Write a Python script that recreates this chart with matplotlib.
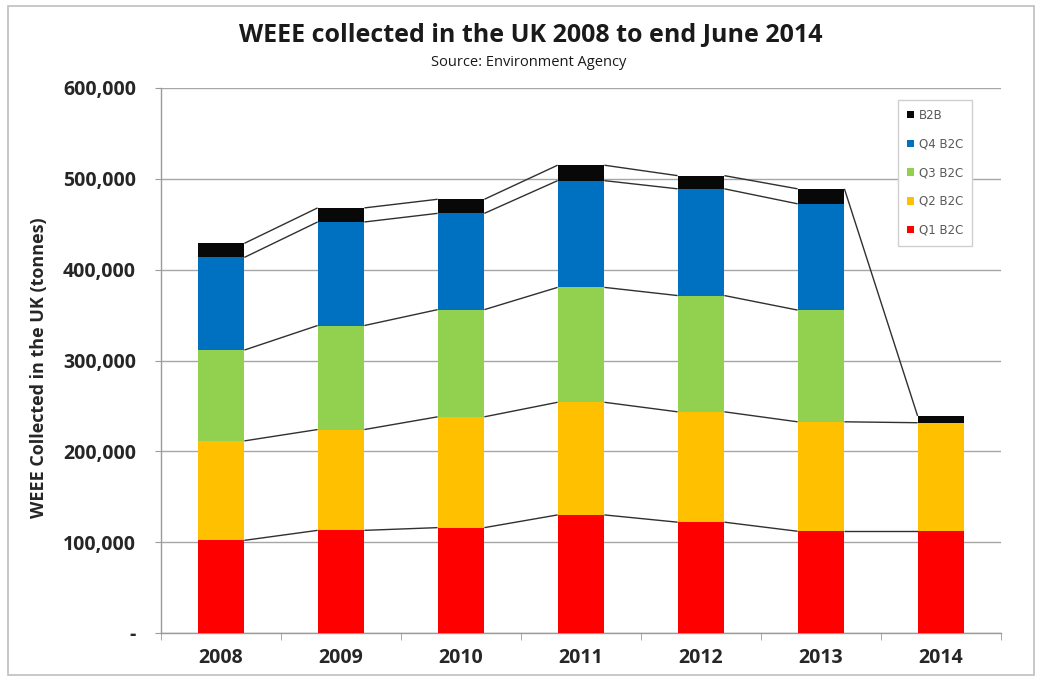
import numpy as np
import matplotlib
matplotlib.use("Agg")
import matplotlib.pyplot as plt
from matplotlib.patches import Patch, Rectangle
from matplotlib.ticker import FuncFormatter

years = ["2008", "2009", "2010", "2011", "2012", "2013", "2014"]
q1_b2c = [102000, 113000, 116000, 130000, 122000, 112000, 112000]
q2_b2c = [109500, 111000, 122000, 124000, 121500, 120500, 119500]
q3_b2c = [100000, 114500, 118000, 126500, 128000, 123000, np.nan]
q4_b2c = [102000, 114000, 106000, 117500, 117500, 117000, np.nan]
b2b = [15500, 15500, 15500, 17000, 14500, 16500, 7500]

series_names = ["Q1 B2C", "Q2 B2C", "Q3 B2C", "Q4 B2C", "B2B"]
series_vals = [q1_b2c, q2_b2c, q3_b2c, q4_b2c, b2b]
colors = ["#FF0000", "#FFC000", "#92D050", "#0070C0", "#080808"]

W, H = 1040, 681
fig = plt.figure(figsize=(W / 100, H / 100), dpi=100)
ax = fig.add_axes([161 / W, 48 / H, 840 / W, 545 / H])

x = np.arange(len(years))
bw = 0.39
bottom = np.zeros(len(years))
tops = []
for name, vals, c in zip(series_names, series_vals, colors):
    v = np.array(vals, dtype=float)
    mask = ~np.isnan(v)
    ax.bar(x[mask], v[mask], bw, bottom=bottom[mask], color=c, edgecolor="none",
           label=name, zorder=3)
    top = bottom + np.nan_to_num(v)
    t = np.where(mask, top, np.nan)
    tops.append(t)
    bottom = top

# series lines
for t in tops:
    for i in range(len(years) - 1):
        if not (np.isnan(t[i]) or np.isnan(t[i + 1])):
            ax.plot([x[i] + bw / 2, x[i + 1] - bw / 2], [t[i], t[i + 1]],
                    color="#303030", lw=1.0, zorder=2.5, solid_capstyle="butt")

ax.set_xlim(-0.5, len(years) - 0.5)
ax.set_ylim(0, 600000)
ax.set_yticks(np.arange(0, 600001, 100000))
ax.yaxis.set_major_formatter(FuncFormatter(lambda v, p: "-" if v == 0 else f"{int(v):,}"))
ax.set_xticks(x)
ax.set_xticklabels(years)
ax.set_xticks(np.arange(-0.5, len(years), 1.0), minor=True)

ax.grid(axis="y", color="#A6A6A6", lw=1.0, zorder=0)
ax.set_axisbelow(True)
for s in ["top", "right"]:
    ax.spines[s].set_visible(False)
for s in ["left", "bottom"]:
    ax.spines[s].set_color("#9A9A9A")
    ax.spines[s].set_linewidth(1.0)

ax.tick_params(axis="y", length=4, color="#9A9A9A", pad=14, labelcolor="#262626")
ax.tick_params(axis="x", which="major", length=0, pad=11, labelcolor="#262626")
ax.tick_params(axis="x", which="minor", length=5, color="#9A9A9A")
for lab in ax.get_yticklabels() + ax.get_xticklabels():
    lab.set_fontfamily(["Open Sans", "DejaVu Sans"])
    lab.set_fontweight("bold")
    lab.set_fontsize(14)

fig.text(39 / W, 1 - 368 / H, "WEEE Collected in the UK (tonnes)", rotation=90,
         ha="center", va="center", color="#262626",
         family=["Open Sans", "DejaVu Sans"], weight="bold", size=13)

fig.text(531 / W, 1 - 35 / H, "WEEE collected in the UK 2008 to end June 2014",
         ha="center", va="center", color="#1A1A1A",
         family=["Open Sans", "DejaVu Sans"], weight="bold", size=18)
fig.text(529 / W, 1 - 62 / H, "Source: Environment Agency",
         ha="center", va="center", color="#1A1A1A",
         family=["Open Sans", "DejaVu Sans"], size=10.5)

handles = [Patch(facecolor=c, edgecolor="none") for c in colors][::-1]
labels = series_names[::-1]
leg = ax.legend(handles, labels, loc="upper left",
                bbox_to_anchor=(898 / W, 1 - 100 / H), bbox_transform=fig.transFigure,
                prop=dict(family=["DejaVu Sans"], size=8.5), labelcolor="#595959",
                handlelength=0.6, handleheight=0.6, handletextpad=0.4,
                labelspacing=1.33, borderpad=0.75, borderaxespad=0,
                frameon=True, fancybox=False, edgecolor="#D0D0D0", framealpha=1)
leg.get_frame().set_linewidth(1.0)
leg.set_zorder(5)

fig.add_artist(Rectangle((8 / W, 6 / H), 1026 / W, 669 / H, transform=fig.transFigure,
                         fill=False, edgecolor="#BFBFBF", lw=1.2))

fig.savefig("out.png", dpi=100)
